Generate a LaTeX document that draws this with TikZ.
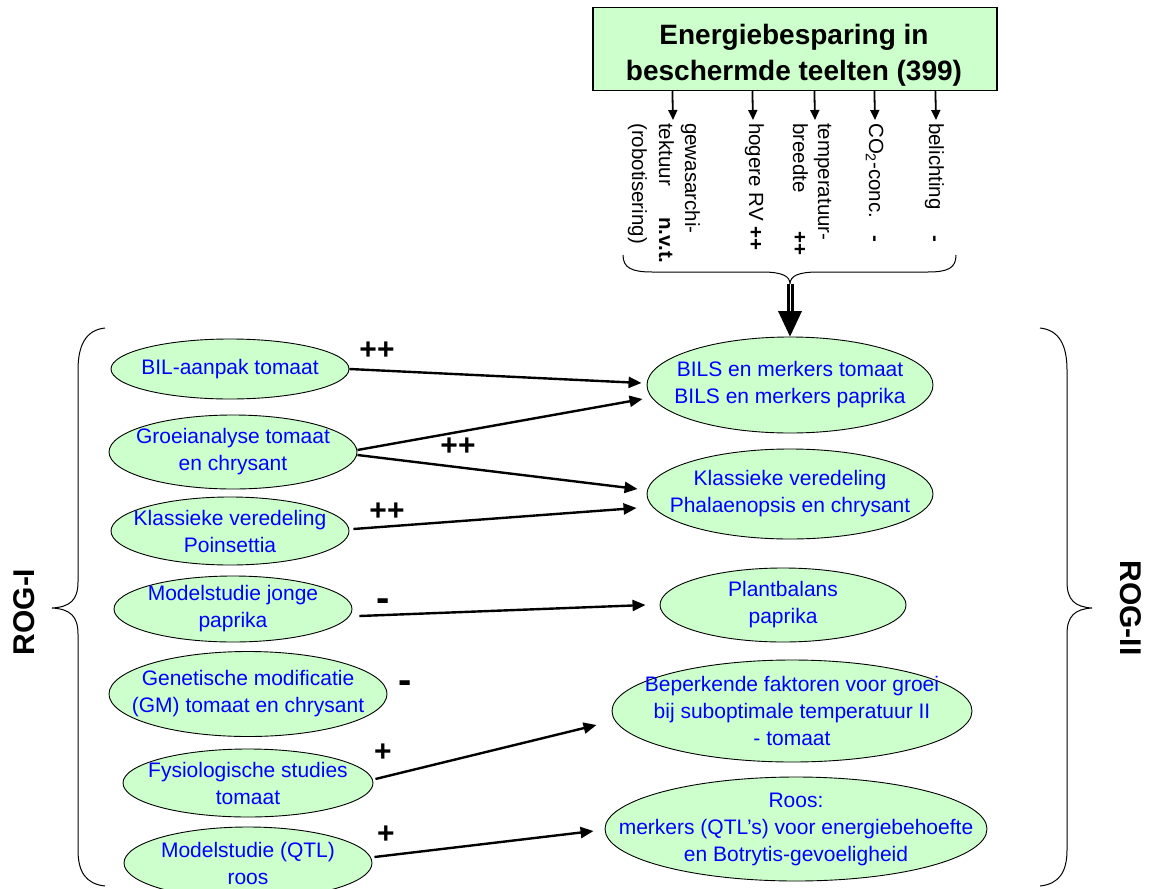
\documentclass[tikz,border=0pt]{standalone}
\usepackage{fontspec}
\setmainfont{Liberation Sans}
\usetikzlibrary{shapes.geometric,arrows.meta,calc}
\definecolor{pale}{HTML}{CCFFCC}
\definecolor{txtblue}{HTML}{0000FF}
\begin{document}
\begin{tikzpicture}[x=1pt,y=1pt,
 ell/.style={ellipse, draw=black, line width=0.9pt, fill=pale, inner sep=0},
 btxt/.style={align=center, text=txtblue, inner sep=0, font=\fontsize{21}{27}\selectfont},
 rtext/.style={rotate=-90, anchor=base west, inner sep=0, font=\fontsize{20.5}{26}\selectfont},
 arr/.style={line width=2.4pt, -{Triangle[length=13pt,width=11pt]}},
 sarr/.style={line width=1.8pt, -{Triangle[length=10pt,width=9pt]}},
 mk/.style={font=\bfseries\fontsize{30}{30}\selectfont, inner sep=0},
 mkd/.style={font=\bfseries\fontsize{40}{40}\selectfont, inner sep=0},
 rog/.style={font=\bfseries\fontsize{30}{30}\selectfont, inner sep=0},
 bracestyle/.style={line width=1pt}]

\useasboundingbox (0,0) rectangle (1150,-888);
\fill[white] (0,0) rectangle (1150,-888);

% title box
\node[draw, line width=1.2pt, fill=pale, minimum width=404, minimum height=83, inner sep=0] (title) at (795,-49) {};
\node[align=center, inner sep=0, font=\bfseries\fontsize{28}{36}\selectfont] (titlet) at (794,-55) {Energiebesparing in\\beschermde teelten (399)};

% small arrows
\coordinate (f1) at (673,-120);
\coordinate (f2) at (753,-120);
\coordinate (f3) at (815,-120);
\coordinate (f4) at (875,-120);
\coordinate (f5) at (936,-120);
\draw[sarr] ($(title.south west)+(80,0)$) -- (f1);
\draw[sarr] ($(title.south west)+(160,0)$) -- (f2);
\draw[sarr] ($(title.south west)+(222,0)$) -- (f3);
\draw[sarr] ($(title.south west)+(282,0)$) -- (f4);
\draw[sarr] ($(title.south west)+(343,0)$) -- (f5);

% rotated factor texts
\node[rtext] (r1a) at (685,-123) {gewasarchi-};
\node[rtext] (r1b) at (659,-123) {tektuur};
\node[rtext] (r1m) at (659,-217) {\bfseries n.v.t.};
\node[rtext] (r1c) at (632,-123) {(robotisering)};
\node[rtext] (r2) at (749,-123) {hogere RV \bfseries ++};
\node[rtext] (r3a) at (818,-123) {temperatuur-};
\node[rtext] (r3b) at (793,-123) {breedte};
\node[rtext] (r3m) at (793,-231) {\bfseries ++};
\node[rtext] (r4) at (869,-123) {CO\textsubscript{2}-conc.};
\node[rtext] (r4m) at (869,-235) {\bfseries -};
\node[rtext] (r5) at (929,-123) {belichting};
\node[rtext] (r5m) at (929,-235) {\bfseries -};

% top brace
\coordinate (bt) at (790,-284);
\draw[bracestyle] (623,-255) .. controls (623,-268) and (632,-272) .. (652,-272) -- (762,-272)
  .. controls (782,-272) and (790,-276) .. (bt)
  .. controls (790,-276) and (798,-272) .. (818,-272) -- (928,-272)
  .. controls (948,-272) and (956,-268) .. (956,-255);

% left ellipses
\node[ell, minimum width=238, minimum height=60] (bil) at (230,-369) {};
\node[btxt] (bilt) at (bil) {BIL-aanpak tomaat};
\node[ell, minimum width=248, minimum height=74] (groei) at (233,-452) {};
\node[btxt] (groeit) at (groei) {Groeianalyse tomaat\\en chrysant};
\node[ell, minimum width=238, minimum height=68] (poin) at (230,-531) {};
\node[btxt] (point) at (poin) {Klassieke veredeling\\Poinsettia};
\node[ell, minimum width=238, minimum height=66] (mjong) at (233,-609) {};
\node[btxt] (mjongt) at (mjong) {Modelstudie jonge\\paprika};
\node[ell, minimum width=278, minimum height=85] (gm) at (248,-694) {};
\node[btxt] (gmt) at (gm) {Genetische modificatie\\(GM) tomaat en chrysant};
\node[ell, minimum width=250, minimum height=68] (fysio) at (248,-783) {};
\node[btxt] (fysiot) at (fysio) {Fysiologische studies\\tomaat};
\node[ell, minimum width=248, minimum height=72] (qtl) at (248,-863) {};
\node[btxt] (qtlt) at (qtl) {Modelstudie (QTL)\\roos};

% right ellipses
\node[ell, minimum width=286, minimum height=96] (bils) at (790,-385) {};
\node[btxt] (bilst) at (bils) {BILS en merkers tomaat\\BILS en merkers paprika};
\node[ell, minimum width=286, minimum height=90] (phal) at (790,-494) {};
\node[btxt] (phalt) at (phal) {Klassieke veredeling\\Phalaenopsis en chrysant};
\node[ell, minimum width=246, minimum height=74] (plant) at (783,-605) {};
\node[btxt] (plantt) at (plant) {Plantbalans\\paprika};
\node[ell, minimum width=360, minimum height=102] (bep) at (792,-711) {};
\node[btxt] (bept) at (bep) {Beperkende faktoren voor groei\\bij suboptimale temperatuur II\\- tomaat};
\node[ell, minimum width=382, minimum height=104] (roos) at (796,-829) {};
\node[btxt] (roost) at (roos) {Roos:\\merkers (QTL’s) voor energiebehoefte\\en Botrytis-gevoeligheid};

% big arrow
\coordinate (hb) at (790,-311);
\draw[line width=3pt, double=white, double distance=1pt] (bt) -- (hb);
\fill ([xshift=-12]hb) -- ([xshift=12]hb) -- (bils.north) -- cycle;

% connectors
\draw[arr] (bil.east) -- ([shift={(-5,2)}]bils.west);
\draw[arr] ([yshift=2]groei.east) -- ([shift={(-4,-14)}]bils.west);
\draw[arr] ([yshift=-3]groei.east) -- ([shift={(-9,5)}]phal.west);
\draw[arr] ([shift={(4,2)}]poin.east) -- ([shift={(-10,-14)}]phal.west);
\draw[arr] ([shift={(7,-7)}]mjong.east) -- ([xshift=-14]plant.west);
\draw[arr] ([shift={(2,4)}]fysio.east) -- ([shift={(-15,-14)}]bep.west);
\draw[arr] ([shift={(2,6)}]qtl.east) -- ([shift={(-11,-2)}]roos.west);

% marks
\node[mk] (m1) at (377,-351) {++};
\node[mk] (m2) at (458,-447) {++};
\node[mk] (m3) at (387,-512) {++};
\node[mkd] (m4) at (383,-605) {-};
\node[mkd] (m5) at (405,-687) {-};
\node[mk] (m6) at (383,-753) {+};
\node[mk] (m7) at (386,-835) {+};

% side braces
\draw[bracestyle] (105,-328) .. controls (86,-330) and (78,-345) .. (78,-370) -- (78,-582)
  .. controls (78,-600) and (70,-607) .. (52,-608)
  .. controls (70,-609) and (78,-616) .. (78,-634) -- (78,-850)
  .. controls (78,-872) and (86,-884) .. (105,-886);
\draw[bracestyle] (1040,-328) .. controls (1059,-330) and (1067,-345) .. (1067,-370) -- (1067,-582)
  .. controls (1067,-600) and (1075,-607) .. (1092,-608)
  .. controls (1075,-609) and (1067,-616) .. (1067,-634) -- (1067,-850)
  .. controls (1067,-872) and (1059,-884) .. (1040,-886);

\node[rog, rotate=90] (rog1) at (24,-612) {ROG-I};
\node[rog, rotate=-90] (rog2) at (1131,-608) {ROG-II};
\end{tikzpicture}
\end{document}
